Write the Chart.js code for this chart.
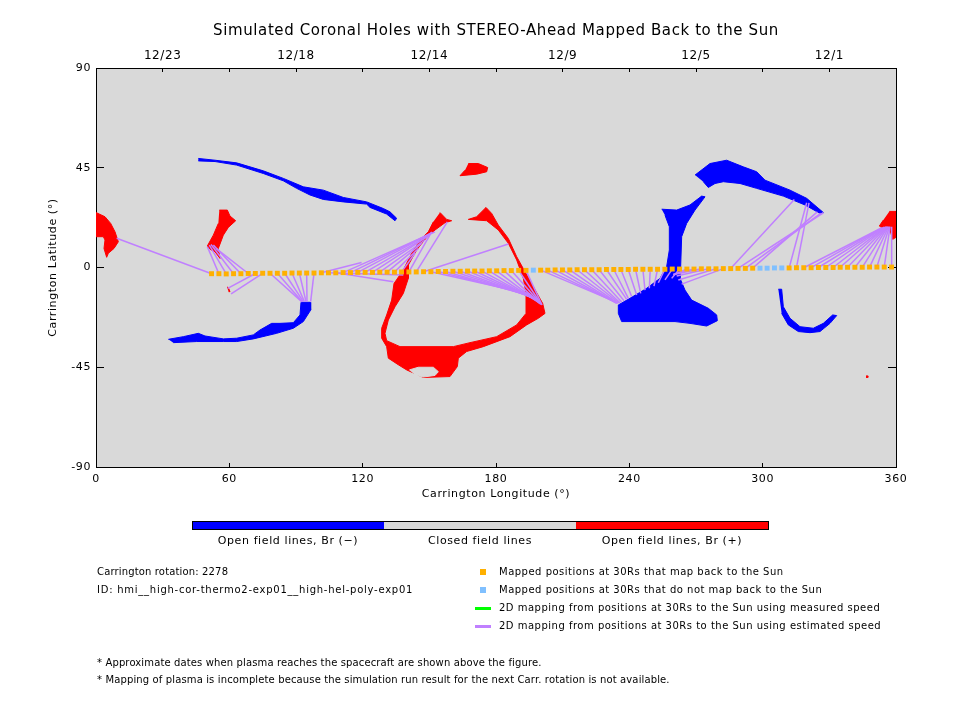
<!DOCTYPE html>
<html>
<head>
<meta charset="utf-8">
<title>Simulated Coronal Holes</title>
<script src="https://cdn.jsdelivr.net/npm/chart.js@4"></script>
<style>
    html, body { margin: 0; padding: 0; background: #fff; }
    #chart { display: block; }
</style>
</head>
<body>
<canvas id="chart" width="960" height="720"></canvas>
<script>
    // all values in degrees: [Carrington longitude, Carrington latitude]
    var redLeft = [[0,24.8],[4.05,22.9],[6.6,19.9],[8.55,16.1],[10.05,11.6],[8.1,8.6],[5.55,6.4],[4.8,4.6],[3.6,8.6],[4.05,12.4],[3.3,13.9],[0,13.9]];
    var redSmallArm = [[55.5,25.9],[59.1,25.9],[60.3,23.2],[62.85,21.1],[59.55,18.1],[57.3,14.6],[55.05,8.6],[55.8,4.1],[53.55,7.1],[51.3,8.2],[50.1,9.7],[52.8,14.6],[55.05,19.9]];
    var redSpeck = [[58.95,-8.8],[59.55,-9.1],[60.3,-10.9],[59.7,-10.9]];
    var redTop = [[167.55,46.9],[172.05,46.9],[176.25,45.1],[175.8,43.2],[171.3,42.1],[163.8,41.4],[166.05,43.9]];
    var redLoop = [[154.8,24.8],[157.8,21.7],[160.05,21.1],[157.05,20.2],[152.55,16.9],[148.8,13.6],[144.3,7.9],[140.55,1.1],[140.55,-4.9],[138.3,-11.7],[134.55,-17.7],[131.55,-23.7],[130.05,-29.7],[130.8,-33],[136.8,-35.7],[160.8,-35.7],[168.3,-33.9],[180.3,-31.2],[189.3,-25.9],[193.5,-20.7],[193.5,-11.7],[192.3,-4.9],[189.3,3.4],[185.55,10.9],[181.05,16.9],[175.8,21.1],[167.55,21.7],[171.3,22.9],[175.5,27.1],[178.05,24.4],[181.05,19.1],[185.55,13.1],[189.3,4.9],[193.05,-1.9],[196.8,-8.7],[201,-16.2],[202.05,-20.7],[199.05,-22.9],[193.8,-25.9],[186.3,-31.2],[174.3,-35.7],[166.8,-37.9],[163.05,-40.9],[162.6,-44.7],[159.3,-49.2],[147.3,-49.6],[139.8,-46.2],[136.05,-43.9],[131.55,-40.9],[130.8,-35.7],[128.55,-31.9],[128.55,-27.4],[130.8,-21.4],[133.05,-14.7],[134.1,-7.2],[138.3,-1.1],[142.05,6.4],[145.8,12.4],[149.55,16.1],[151.8,20.6]];
    var loopGap = [[141,-46.2],[145.05,-45],[151.8,-45],[154.05,-47],[152.55,-48.7],[147.3,-49.4],[143.55,-48.5]];
    var redRight = [[357,25.3],[360,25.3],[360,13.6],[358.5,12.7],[357.3,16.9],[354.3,17.6],[352.5,18.7],[354.3,21.4]];
    var redDot = [[346.5,-48.9],[347.3,-48.9],[347.3,-49.6],[346.5,-49.6]];

    var blueArc = [[46.05,49.2],[53.55,48.4],[63.3,47.2],[75.3,43.6],[84.3,40.2],[93.3,36.4],[102.3,34.9],[111.3,31.6],[121.8,29.6],[129.3,26.6],[132.3,25.1],[135.3,22.2],[134.55,21.1],[130.8,24.1],[123.3,27.1],[121.8,28.6],[111.3,29.6],[102.3,30.7],[96.3,32.7],[90.3,35.7],[84.3,39.1],[75.3,42.4],[63.3,46.2],[53.55,47.8],[46.05,48.1]];
    var blueLow = [[32.55,-32.4],[39.3,-31.2],[46.05,-29.7],[49.05,-30.9],[57.3,-32.2],[63.3,-31.9],[70.8,-30.4],[73.8,-28.2],[79.05,-25.2],[82.8,-25.2],[88.8,-24.9],[91.8,-21.4],[92.25,-15.7],[96.3,-15.7],[96.6,-19.2],[93.3,-24.4],[88.8,-27.4],[81.3,-29.7],[70.8,-32.2],[63.3,-33.4],[57.3,-33.4],[45.3,-33.4],[34.8,-33.9]];
    var blueCentre = [[254.55,26.3],[261.3,25.9],[267.3,28.2],[272.55,32.2],[274.05,31.9],[269.55,25.9],[265.8,19.9],[263.55,13.9],[263.1,0.4],[262.8,-4.9],[265.05,-10.2],[268.05,-14.7],[275.55,-18.4],[279.3,-21.4],[279.6,-24],[274.8,-26.4],[267.3,-25.2],[260.55,-24.4],[240.3,-24.4],[236.55,-24.4],[235.05,-20.7],[235.05,-16.9],[240.3,-13.9],[247.8,-9.4],[253.8,-4.9],[256.8,0.4],[258,7.9],[258,18.4],[256.05,23.6]];
    var blueUpper = [[269.55,41.7],[276.3,46.9],[283.8,48.4],[291.3,45.4],[297.3,43.2],[301.05,39.4],[312.3,34.9],[319.8,31.2],[327.3,24.8],[325.8,24.4],[319.05,28.2],[309.3,32.2],[297.3,35.7],[289.8,37.9],[282.3,38.7],[278.55,37.9],[275.55,36.1],[273.3,38.7]];
    var blueHook = [[307.05,-9.8],[308.55,-9.8],[309.3,-17.7],[312.3,-22.9],[316.8,-26.7],[322.8,-27.4],[327.3,-25.2],[331.5,-21.4],[333.3,-21.7],[330.3,-25.2],[325.8,-28.9],[321.3,-29.4],[316.05,-28.9],[311.55,-25.9],[308.55,-20.7]];

    // positions at 30Rs
    var posLon = [52.0,55.3,58.6,61.9,65.2,68.5,71.7,75.0,78.3,81.6,84.9,88.2,91.5,94.8,98.1,101.4,104.6,107.9,111.2,114.5,117.8,121.1,124.4,127.7,131.0,134.3,137.5,140.8,144.1,147.4,150.7,154.0,157.3,160.6,163.9,167.2,170.4,173.7,177.0,180.3,183.6,186.9,190.2,193.5,196.8,200.1,203.3,206.6,209.9,213.2,216.5,219.8,223.1,226.4,229.7,233.0,236.2,239.5,242.8,246.1,249.4,252.7,256.0,259.3,262.6,265.9,269.1,272.4,275.7,279.0,282.3,285.6,288.9,292.2,295.5,298.8,302.0,305.3,308.6,311.9,315.2,318.5,321.8,325.1,328.4,331.7,334.9,338.2,341.5,344.8,348.1,351.4,354.7,358.0];
    var posLat = [-2.8,-2.8,-2.9,-2.8,-2.8,-2.7,-2.7,-2.6,-2.6,-2.6,-2.6,-2.5,-2.5,-2.5,-2.5,-2.4,-2.4,-2.4,-2.3,-2.3,-2.2,-2.2,-2.2,-2.1,-2.1,-2.1,-2.0,-2.0,-2.0,-1.9,-1.9,-1.8,-1.8,-1.7,-1.7,-1.6,-1.6,-1.6,-1.5,-1.5,-1.4,-1.4,-1.3,-1.3,-1.2,-1.2,-1.2,-1.1,-1.1,-1.1,-1.0,-1.0,-1.0,-1.0,-0.9,-0.9,-0.9,-0.9,-0.8,-0.8,-0.8,-0.8,-0.8,-0.7,-0.7,-0.7,-0.7,-0.6,-0.6,-0.6,-0.5,-0.5,-0.4,-0.4,-0.3,-0.3,-0.3,-0.2,-0.2,-0.2,-0.1,-0.1,-0.1,0,0,0,0.1,0.1,0.1,0.1,0.2,0.2,0.2,0.2];

    // where each position lands on the Sun, null = does not map back
    var footLon = [9.3,50.1,51,51.75,52.8,54,59.25,60.8,92.55,92.85,93.3,93.75,94.5,94.95,96.6,119.5,138.3,133.8,152.55,151.35,150.75,150,149.1,148.05,146.55,145.05,143.55,151.05,158.1,185.55,195.3,196.05,196.65,197.25,197.85,198.3,198.75,199.2,199.5,199.8,200.1,200.4,200.55,200.7,null,233.55,233.85,234.15,234.45,234.9,235.35,235.8,236.55,237.6,238.8,239.55,241.05,243.3,245.1,247.05,249,251.1,253.05,256.05,259.05,259.8,259.8,260.55,261.3,262.05,263.55,314.25,327.3,326.1,324.6,null,null,null,null,319.8,320.85,352.8,353.55,354,354.6,355.05,355.5,355.8,356.1,356.4,356.7,357,357.3,358.05];
    var footLat = [13.2,9.4,10.1,10.4,10.1,8.6,-9.4,-11.9,-15.4,-15.4,-15.4,-15.4,-15.4,-15.4,-15.4,2.3,-3.4,-6.4,16.1,15.8,15.4,14.6,13.9,12.4,10.9,8.6,6.4,16.1,20.6,10.6,-12,-12.6,-13.2,-13.6,-14.1,-14.5,-14.9,-15.4,-15.9,-16.2,-16.5,-16.6,-16.8,-16.9,null,-15.4,-15.7,-16,-16.2,-16.2,-16,-15.9,-15.6,-15,-14.4,-13.9,-13.1,-12.4,-11.7,-10.2,-9.4,-8.4,-6.9,-5.6,-4.9,-3.4,-3,-3,-3.8,-5.6,-7.5,30.7,24.7,24.4,25.1,null,null,null,null,29.2,29.2,17.5,17.9,18,18.2,18.2,18.4,18.4,18.4,18.4,18.4,18.4,18.4,18.4];

    var latTicks = [-90, -45, 0, 45, 90];
    var lonTicks = [0, 60, 120, 180, 240, 300, 360];
    var dateTicks = [0, 30, 60, 90, 120, 150, 180, 210, 240, 270, 300, 330, 360];
    var dateLabels = ["", "12/23", "", "12/18", "", "12/14", "", "12/9", "", "12/5", "", "12/1", ""];

    var barLabels = ["Open field lines, Br (\u2212)", "Closed field lines", "Open field lines, Br (+)"];
    var infoLines = ["Carrington rotation: 2278", "ID: hmi__high-cor-thermo2-exp01__high-hel-poly-exp01"];
    var legendLines = [
        "Mapped positions at 30Rs that map back to the Sun",
        "Mapped positions at 30Rs that do not map back to the Sun",
        "2D mapping from positions at 30Rs to the Sun using measured speed",
        "2D mapping from positions at 30Rs to the Sun using estimated speed"
    ];
    var footnotes = [
        "* Approximate dates when plasma reaches the spacecraft are shown above the figure.",
        "* Mapping of plasma is incomplete because the simulation run result for the next Carr. rotation is not available."
    ];

    var RED = "#ff0000", BLUE = "#0000ff", GREY = "#d9d9d9", ORANGE = "#ffb000",
        SKY = "#80c0ff", PURPLE = "#c080ff", GREEN = "#00ff00";
    var FONT = "'DejaVu Sans'";

    function toXY(pairs) {
        return pairs.map(function(p) { return { x: p[0], y: p[1] }; });
    }

    function shape(pairs, color, order) {
        return {
            data: toXY(pairs),
            showLine: true,
            fill: "shape",
            backgroundColor: color,
            borderColor: color,
            borderWidth: 1,
            pointRadius: 0,
            order: order
        };
    }

    var datasets = [];
    [redLeft, redSmallArm, redSpeck, redTop, redLoop, redRight, redDot].forEach(function(s) {
        datasets.push(shape(s, RED, 5));
    });
    [blueArc, blueLow, blueCentre, blueUpper, blueHook].forEach(function(s) {
        datasets.push(shape(s, BLUE, 5));
    });
    datasets.push(shape(loopGap, GREY, 4));

    var mapped = [], unmapped = [];
    for (var i = 0; i < posLon.length; i++) {
        if (footLon[i] === null) {
            unmapped.push({ x: posLon[i], y: posLat[i] });
            continue;
        }
        mapped.push({ x: posLon[i], y: posLat[i] });
        datasets.push({
            data: [{ x: posLon[i], y: posLat[i] }, { x: footLon[i], y: footLat[i] }],
            showLine: true,
            borderColor: PURPLE,
            borderWidth: 1.5,
            pointRadius: 0,
            order: 3
        });
    }
    [[mapped, ORANGE], [unmapped, SKY]].forEach(function(m) {
        datasets.push({
            data: m[0],
            showLine: false,
            pointStyle: "rect",
            pointRadius: 3.5,
            pointBorderWidth: 0,
            backgroundColor: m[1],
            order: 1
        });
    });

    // grey plot background, colour bar and the text block under the plot
    var extras = {
        id: "extras",
        beforeDraw: function(chart) {
            var a = chart.chartArea;
            chart.ctx.fillStyle = GREY;
            chart.ctx.fillRect(a.left, a.top, a.width, a.height);
            // the original lettering runs wider than any installed font
            chart.ctx.letterSpacing = "0.6px";
        },
        afterDraw: function(chart) {
            var ctx = chart.ctx;
            ctx.save();
            ctx.fillStyle = BLUE;
            ctx.fillRect(192, 521, 192, 8);
            ctx.fillStyle = GREY;
            ctx.fillRect(384, 521, 192, 8);
            ctx.fillStyle = RED;
            ctx.fillRect(576, 521, 192, 8);
            ctx.strokeStyle = "#000";
            ctx.strokeRect(192.5, 521.5, 576, 8);

            ctx.fillStyle = "#000";
            ctx.font = "11px " + FONT;
            ctx.textBaseline = "middle";
            ctx.textAlign = "center";
            [288, 480, 672].forEach(function(x, k) {
                ctx.fillText(barLabels[k], x, 541);
            });
            ctx.textAlign = "left";
            ctx.font = "10px " + FONT;
            ctx.letterSpacing = "0.15px";
            ctx.fillText(infoLines[0], 97, 572);
            ctx.letterSpacing = "0.75px";
            ctx.fillText(infoLines[1], 97, 590);
            ctx.letterSpacing = "0.5px";
            legendLines.forEach(function(t, k) {
                ctx.fillText(t, 499, 572 + k * 18);
            });
            ctx.letterSpacing = "0.13px";
            footnotes.forEach(function(t, k) {
                ctx.fillText(t, 97, 663 + k * 17);
            });

            ctx.fillStyle = ORANGE;
            ctx.fillRect(480, 569, 6, 6);
            ctx.fillStyle = SKY;
            ctx.fillRect(480, 587, 6, 6);
            ctx.fillStyle = GREEN;
            ctx.fillRect(475, 607, 16, 3);
            ctx.fillStyle = PURPLE;
            ctx.fillRect(475, 625, 16, 3);
            ctx.restore();
        }
    };

    function exact(size) {
        return function(scale) {
            if (scale.isHorizontal()) scale.height = size;
            else scale.width = size;
        };
    }

    function fixedTicks(list) {
        return function(scale) {
            scale.ticks = list.map(function(v) { return { value: v }; });
        };
    }

    var tickFont = { family: FONT, size: 11 };

    new Chart(document.getElementById("chart").getContext("2d"), {
        type: "scatter",
        data: { datasets: datasets },
        plugins: [extras],
        options: {
            responsive: false,
            animation: false,
            layout: { padding: 0 },
            plugins: {
                legend: { display: false },
                tooltip: { enabled: false },
                title: {
                    display: true,
                    fullSize: false,
                    text: "Simulated Coronal Holes with STEREO-Ahead Mapped Back to the Sun",
                    color: "#000",
                    font: { family: FONT, size: 15, weight: "normal", lineHeight: 1.2 },
                    padding: { top: 22, bottom: 0 }
                }
            },
            scales: {
                x: {
                    type: "linear", position: "bottom", min: 0, max: 360,
                    afterFit: exact(253),
                    afterBuildTicks: fixedTicks(lonTicks),
                    border: { color: "#000" },
                    grid: { drawOnChartArea: false, tickLength: -4, tickColor: "#000" },
                    ticks: { color: "#000", font: tickFont, padding: 10, autoSkip: false, maxRotation: 0 },
                    title: {
                        display: true, text: "Carrington Longitude (\u00b0)", color: "#000",
                        font: { family: FONT, size: 11 }, padding: { top: 0, bottom: 219 }
                    }
                },
                xTop: {
                    axis: "x", type: "linear", position: "top", min: 0, max: 360,
                    afterFit: exact(28),
                    afterBuildTicks: fixedTicks(dateTicks),
                    border: { color: "#000" },
                    grid: { drawOnChartArea: false, tickLength: -4, tickColor: "#000" },
                    ticks: {
                        color: "#000", font: { family: FONT, size: 12 }, padding: 9, autoSkip: false, maxRotation: 0,
                        callback: function(v) { return dateLabels[dateTicks.indexOf(v)]; }
                    }
                },
                y: {
                    type: "linear", position: "left", min: -90, max: 90,
                    afterFit: exact(96),
                    afterBuildTicks: fixedTicks(latTicks),
                    border: { color: "#000" },
                    grid: { drawOnChartArea: false, tickLength: -8, tickColor: "#000" },
                    ticks: { color: "#000", font: tickFont, padding: 13 },
                    title: {
                        display: true, text: "Carrington Latitude (\u00b0)", color: "#000",
                        font: { family: FONT, size: 11 }, padding: { top: 47, bottom: 0 }
                    }
                },
                yRight: {
                    axis: "y", type: "linear", position: "right", min: -90, max: 90,
                    afterFit: exact(64),
                    afterBuildTicks: fixedTicks(latTicks),
                    border: { color: "#000" },
                    grid: { drawOnChartArea: false, tickLength: -8, tickColor: "#000" },
                    ticks: { display: false }
                }
            }
        }
    });
</script>
</body>
</html>
